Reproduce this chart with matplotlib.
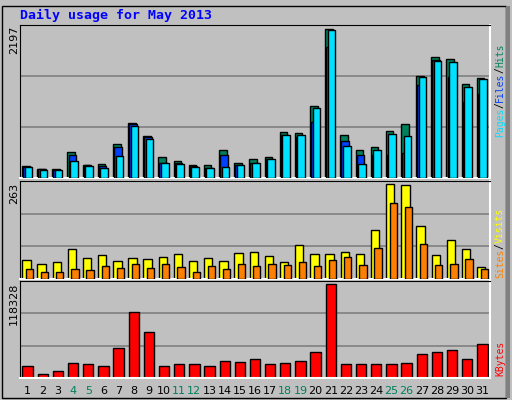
import matplotlib
matplotlib.use("Agg")
import matplotlib.pyplot as plt
import numpy as np

days = list(range(1, 32))
weekends = [4, 5, 11, 12, 18, 19, 25, 26]
hits = [179,135,135,367,193,208,483,787,599,295,237,193,193,396,222,266,295,657,642,1033,2134,613,396,439,671,773,1468,1743,1714,1352,1439]
files = [155,135,121,324,193,179,439,773,584,222,222,179,150,324,193,222,280,613,584,802,1874,526,324,324,324,353,1338,1700,1454,1091,1207]
pages = [155,121,121,251,179,150,309,744,555,222,208,164,150,164,193,222,280,613,613,1004,2120,454,208,396,628,599,1454,1685,1671,1309,1425]
visits = [51,40,45,81,56,65,48,56,54,59,67,48,56,48,70,73,62,45,92,67,67,73,67,131,256,253,142,65,106,81,31]
sites = [26,18,18,26,23,34,29,40,29,40,31,18,34,26,40,34,40,37,45,34,51,59,37,84,203,192,95,37,40,54,26]
kbytes = [14267,5455,7972,18043,16784,14267,36925,80983,55807,14267,16784,16784,14267,20560,19302,23078,16784,18043,20560,31890,114970,16784,16784,16784,16784,18043,29372,31890,34407,23078,41960]
max_hits, max_visits, max_kb = 2197, 263, 118328

BG = "#C0C0C0"
W, H = 512, 400
fig = plt.figure(figsize=(W/100, H/100), dpi=100, facecolor=BG)

def ax_px(x0, y0, x1, y1):
    return fig.add_axes([x0/W, 1-y1/H, (x1-x0)/W, (y1-y0)/H])

x = np.arange(len(days))

def style(ax, ymax, top_px):
    ax.set_facecolor(BG)
    ax.set_xlim(-0.5, len(days)-0.5)
    ax.set_ylim(0, ymax)
    ax.set_xticks([])
    ax.set_yticks([ymax/3, 2*ymax/3])
    ax.set_yticklabels([])
    ax.tick_params(length=0)
    ax.grid(axis='y', color='#808080', lw=1.2)
    ax.set_axisbelow(True)
    for s in ['left', 'top']:
        ax.spines[s].set_color('black')
    for s in ['right', 'bottom']:
        ax.spines[s].set_color('white')
        ax.spines[s].set_linewidth(1.5)
    fig.text(14/W, 1-top_px/H, str(ymax), rotation=90, ha='center', va='top',
             fontsize=8, family='DejaVu Sans')

ek = dict(edgecolor='black', linewidth=1)
a1 = ax_px(20, 25, 490, 178)
style(a1, max_hits, 26)
bw = 0.5
a1.bar(x - 0.12, hits, bw, color='#00805C', **ek, zorder=2)
a1.bar(x - 0.05, files, bw, color='#0040FF', **ek, zorder=3)
a1.bar(x + 0.05, pages, bw, color='#00E0FF', **ek, zorder=4)

a2 = ax_px(20, 181, 490, 279)
style(a2, max_visits, 183)
a2.bar(x - 0.08, visits, 0.55, color='#FFFF00', **ek, zorder=2)
a2.bar(x + 0.12, sites, 0.48, color='#FF8000', **ek, zorder=3)

a3 = ax_px(20, 281, 490, 378)
style(a3, max_kb, 283)
a3.bar(x, kbytes, 0.68, color='#FF0000', **ek, zorder=2)

for i, d in enumerate(days):
    a3.text(i, -0.13, str(d), transform=a3.get_xaxis_transform(), ha='center', va='center',
            fontsize=8, color='#00805C' if d in weekends else 'black')

fig.text(20/W, 1-15/H, "Daily usage for May 2013", color='#0000FF', fontsize=9.5,
         family='DejaVu Sans Mono', weight='bold', va='center', ha='left')

CH = 5.85
def rlabel(y_px, parts):
    y = y_px
    for txt, col in parts:
        fig.text(500/W, 1-y/H, txt, rotation=90, color=col, fontsize=7,
                 family='DejaVu Sans Mono', ha='center', va='bottom')
        y -= len(txt) * CH
rlabel(137, [("Pages", "#00E0FF"), ("/", "black"), ("Files", "#0040FF"), ("/", "black"), ("Hits", "#00805C")])
rlabel(278, [("Sites", "#FF8000"), ("/", "black"), ("Visits", "#FFFF00")])
rlabel(376, [("KBytes", "#FF0000")])

fig.patches.append(plt.Rectangle((2/W, 2/H), 1-8/W, 1-8/H, transform=fig.transFigure,
                                 fill=False, edgecolor='black', lw=1))
fig.patches.append(plt.Rectangle((1-6/W, 2/H), 4/W, 1-8/H, transform=fig.transFigure,
                                 color='#808080', lw=0))
fig.savefig("out.png", dpi=100, facecolor=BG)
